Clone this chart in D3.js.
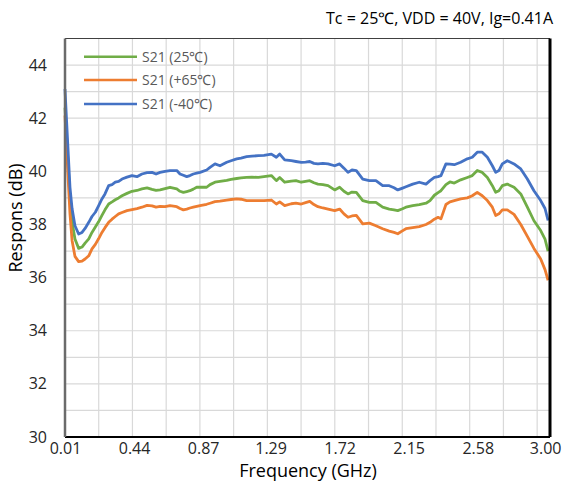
<!DOCTYPE html>
<html>
<head>
<meta charset="UTF-8">
<title>S21 response</title>
<script src="https://cdn.jsdelivr.net/npm/d3@7"></script>
<style>
  body { margin: 0; background: #fff; }
  text { font-family: "Open Sans", sans-serif; }
</style>
</head>
<body>
<svg width="562" height="483"></svg>
<script>
// frequency points (GHz)
var freq = [0.010,0.019,0.029,0.041,0.054,0.072,0.095,0.116,0.135,0.158,0.178,0.199,0.219,0.240,0.259,0.282,0.303,0.323,0.344,0.365,0.396,0.427,0.458,0.489,0.521,0.552,0.577,0.602,
  0.633,0.664,0.706,0.726,0.747,0.768,0.788,0.809,0.830,0.851,0.892,0.913,0.944,0.975,1.017,1.044,1.079,1.106,1.141,1.174,1.214,
  1.249,1.295,1.326,1.347,1.378,1.419,1.448,1.481,1.508,1.534,1.560,1.585,1.616,1.648,1.689,1.720,1.747,1.772,1.797,1.824,
  1.864,1.905,1.946,1.988,2.029,2.059,2.082,2.108,2.133,2.175,2.216,2.258,2.283,2.310,2.333,2.351,2.382,2.407,2.434,
  2.474,2.515,2.546,2.577,2.608,2.640,2.671,2.692,2.712,2.733,2.764,2.806,2.848,2.889,2.930,2.972,2.999,3.018];

// S21 (25°C)
var s21_25 = [42.4,41.4,40.3,39.0,38.1,37.45,37.1,37.15,37.3,37.46,37.7,37.9,38.1,38.34,38.55,38.77,38.85,38.93,39.0,39.08,39.17,39.25,39.28,39.34,39.38,39.32,39.28,39.3,
  39.35,39.4,39.34,39.25,39.21,39.24,39.27,39.33,39.4,39.4,39.4,39.5,39.59,39.62,39.66,39.7,39.73,39.75,39.77,39.78,39.77,
  39.8,39.84,39.65,39.77,39.59,39.63,39.65,39.59,39.62,39.65,39.57,39.52,39.5,39.46,39.3,39.4,39.25,39.15,39.22,39.21,
  38.9,38.83,38.83,38.65,38.58,38.55,38.52,38.58,38.65,38.71,38.75,38.8,38.9,39.1,39.2,39.27,39.5,39.6,39.56,
  39.68,39.77,39.84,40.03,39.96,39.77,39.46,39.21,39.27,39.46,39.52,39.4,39.15,38.65,38.14,37.77,37.45,37.0];

// S21 (+65°C)
var s21_p65 = [42.1,41.0,39.8,38.4,37.4,36.8,36.6,36.62,36.7,36.82,37.08,37.25,37.46,37.7,37.88,38.08,38.2,38.3,38.4,38.45,38.52,38.56,38.6,38.65,38.72,38.7,38.65,38.68,
  38.67,38.71,38.67,38.6,38.55,38.58,38.62,38.65,38.68,38.71,38.76,38.8,38.86,38.88,38.92,38.94,38.96,38.95,38.9,38.9,38.9,
  38.9,38.92,38.77,38.85,38.71,38.78,38.8,38.77,38.82,38.87,38.75,38.67,38.62,38.58,38.52,38.58,38.4,38.27,38.32,38.34,
  38.02,38.05,37.95,37.84,37.75,37.7,37.65,37.75,37.84,37.88,37.92,38.0,38.08,38.2,38.27,38.21,38.75,38.85,38.9,
  38.96,39.0,39.08,39.21,39.08,38.9,38.65,38.34,38.4,38.55,38.55,38.38,38.0,37.55,37.1,36.7,36.3,35.9];

// S21 (-40°C)
var s21_m40 = [43.1,42.0,40.8,39.4,38.6,37.95,37.64,37.7,37.85,38.08,38.3,38.46,38.7,38.96,39.15,39.46,39.5,39.59,39.62,39.71,39.78,39.84,39.8,39.9,39.95,39.96,39.9,39.96,
  40.0,40.03,40.03,39.9,39.85,39.8,39.84,39.9,39.93,39.96,40.05,40.15,40.28,40.21,40.34,40.4,40.47,40.5,40.55,40.57,40.59,
  40.6,40.65,40.53,40.65,40.43,40.4,40.37,40.34,40.35,40.37,40.3,40.28,40.3,40.28,40.21,40.28,40.12,39.96,40.05,40.03,
  39.71,39.65,39.65,39.46,39.46,39.38,39.3,39.36,39.42,39.52,39.59,39.52,39.65,39.77,39.8,39.84,40.28,40.27,40.25,
  40.34,40.47,40.53,40.72,40.72,40.53,40.21,39.96,40.03,40.28,40.4,40.28,40.09,39.71,39.27,38.9,38.6,38.15];

var seriesNames = ["S21 (25℃)", "S21 (+65℃)", "S21 (-40℃)"];
var seriesColors = ["#70AD47", "#ED7D31", "#4472C4"];
var xTickLabels = ["0.01", "0.44", "0.87", "1.29", "1.72", "2.15", "2.58", "3.00"];
var yTicks = [30, 32, 34, 36, 38, 40, 42, 44];

var svg = d3.select("svg");
var plotL = 65, plotR = 550, plotT = 38.5, plotB = 437;

var x = d3.scaleLinear().domain([0.01, 3.03]).range([plotL, plotR]);
var y = d3.scaleLinear().domain([30, 45]).range([plotB, plotT]);

// gridlines
var g = svg.append("g");
g.selectAll(".vg")
  .data(d3.range(0.22, 3.0, 0.21))
  .enter().append("line")
  .attr("x1", function(d){ return x(d); })
  .attr("x2", function(d){ return x(d); })
  .attr("y1", plotT).attr("y2", plotB)
  .attr("stroke", "#d9d9d9").attr("stroke-width", 1.2);
g.selectAll(".hg")
  .data(d3.range(31, 45))
  .enter().append("line")
  .attr("x1", plotL).attr("x2", plotR)
  .attr("y1", function(d){ return y(d); })
  .attr("y2", function(d){ return y(d); })
  .attr("stroke", "#d9d9d9").attr("stroke-width", 1.2);

// curves
var data = [s21_25, s21_p65, s21_m40];
var line = d3.line()
  .x(function(d){ return x(d[0]); })
  .y(function(d){ return y(d[1]); });

data.forEach(function(vals, i){
  svg.append("path")
    .datum(d3.zip(freq, vals))
    .attr("d", line)
    .attr("fill", "none")
    .attr("stroke", seriesColors[i])
    .attr("stroke-width", 2.8)
    .attr("stroke-linejoin", "round");
});

// frame
svg.append("line").attr("x1", plotL).attr("x2", plotR).attr("y1", plotT).attr("y2", plotT)
  .attr("stroke", "#404040").attr("stroke-width", 1);
svg.append("line").attr("x1", plotR).attr("x2", plotR).attr("y1", plotT).attr("y2", plotB)
  .attr("stroke", "#000").attr("stroke-width", 3);
svg.append("line").attr("x1", plotL).attr("x2", plotR).attr("y1", plotB).attr("y2", plotB)
  .attr("stroke", "#000").attr("stroke-width", 2);
svg.append("line").attr("x1", plotL).attr("x2", plotL).attr("y1", plotT).attr("y2", plotB)
  .attr("stroke", "#6b6b6b").attr("stroke-width", 2.5);

// axes
var xAxis = d3.axisBottom(x)
  .tickValues(xTickLabels.map(Number))
  .tickFormat(function(d, i){ return xTickLabels[i]; })
  .tickSize(0).tickPadding(6);
var gx = svg.append("g").attr("transform", "translate(0," + plotB + ")").call(xAxis);
gx.select(".domain").remove();
gx.selectAll("text").attr("font-size", 16).attr("fill", "#262626")
  .style("font-family", "'Open Sans', sans-serif");

var yAxis = d3.axisLeft(y).tickValues(yTicks).tickSize(0).tickPadding(18);
var gy = svg.append("g").attr("transform", "translate(" + plotL + ",0)").call(yAxis);
gy.select(".domain").remove();
gy.selectAll("text").attr("font-size", 16).attr("fill", "#262626")
  .style("font-family", "'Open Sans', sans-serif");

// titles
svg.append("text").attr("x", 553).attr("y", 24).attr("text-anchor", "end")
  .attr("font-size", 16).attr("fill", "#000")
  .text("Tc = 25℃, VDD = 40V, Ig=0.41A");
svg.append("text").attr("x", 308).attr("y", 477).attr("text-anchor", "middle")
  .attr("font-size", 18).attr("fill", "#000")
  .text("Frequency (GHz)");
svg.append("text").attr("transform", "translate(22,218) rotate(-90)")
  .attr("text-anchor", "middle").attr("font-size", 18).attr("fill", "#000")
  .text("Respons (dB)");

// legend
var lg = svg.append("g");
var rowsY = [56.7, 80, 104];
seriesNames.forEach(function(name, i){
  lg.append("line").attr("x1", 84).attr("x2", 137)
    .attr("y1", rowsY[i]).attr("y2", rowsY[i])
    .attr("stroke", seriesColors[i]).attr("stroke-width", 2.6);
  lg.append("text").attr("x", 142).attr("y", rowsY[i] + 5)
    .attr("font-size", 14).attr("fill", "#595959").text(name);
});
</script>
</body>
</html>
